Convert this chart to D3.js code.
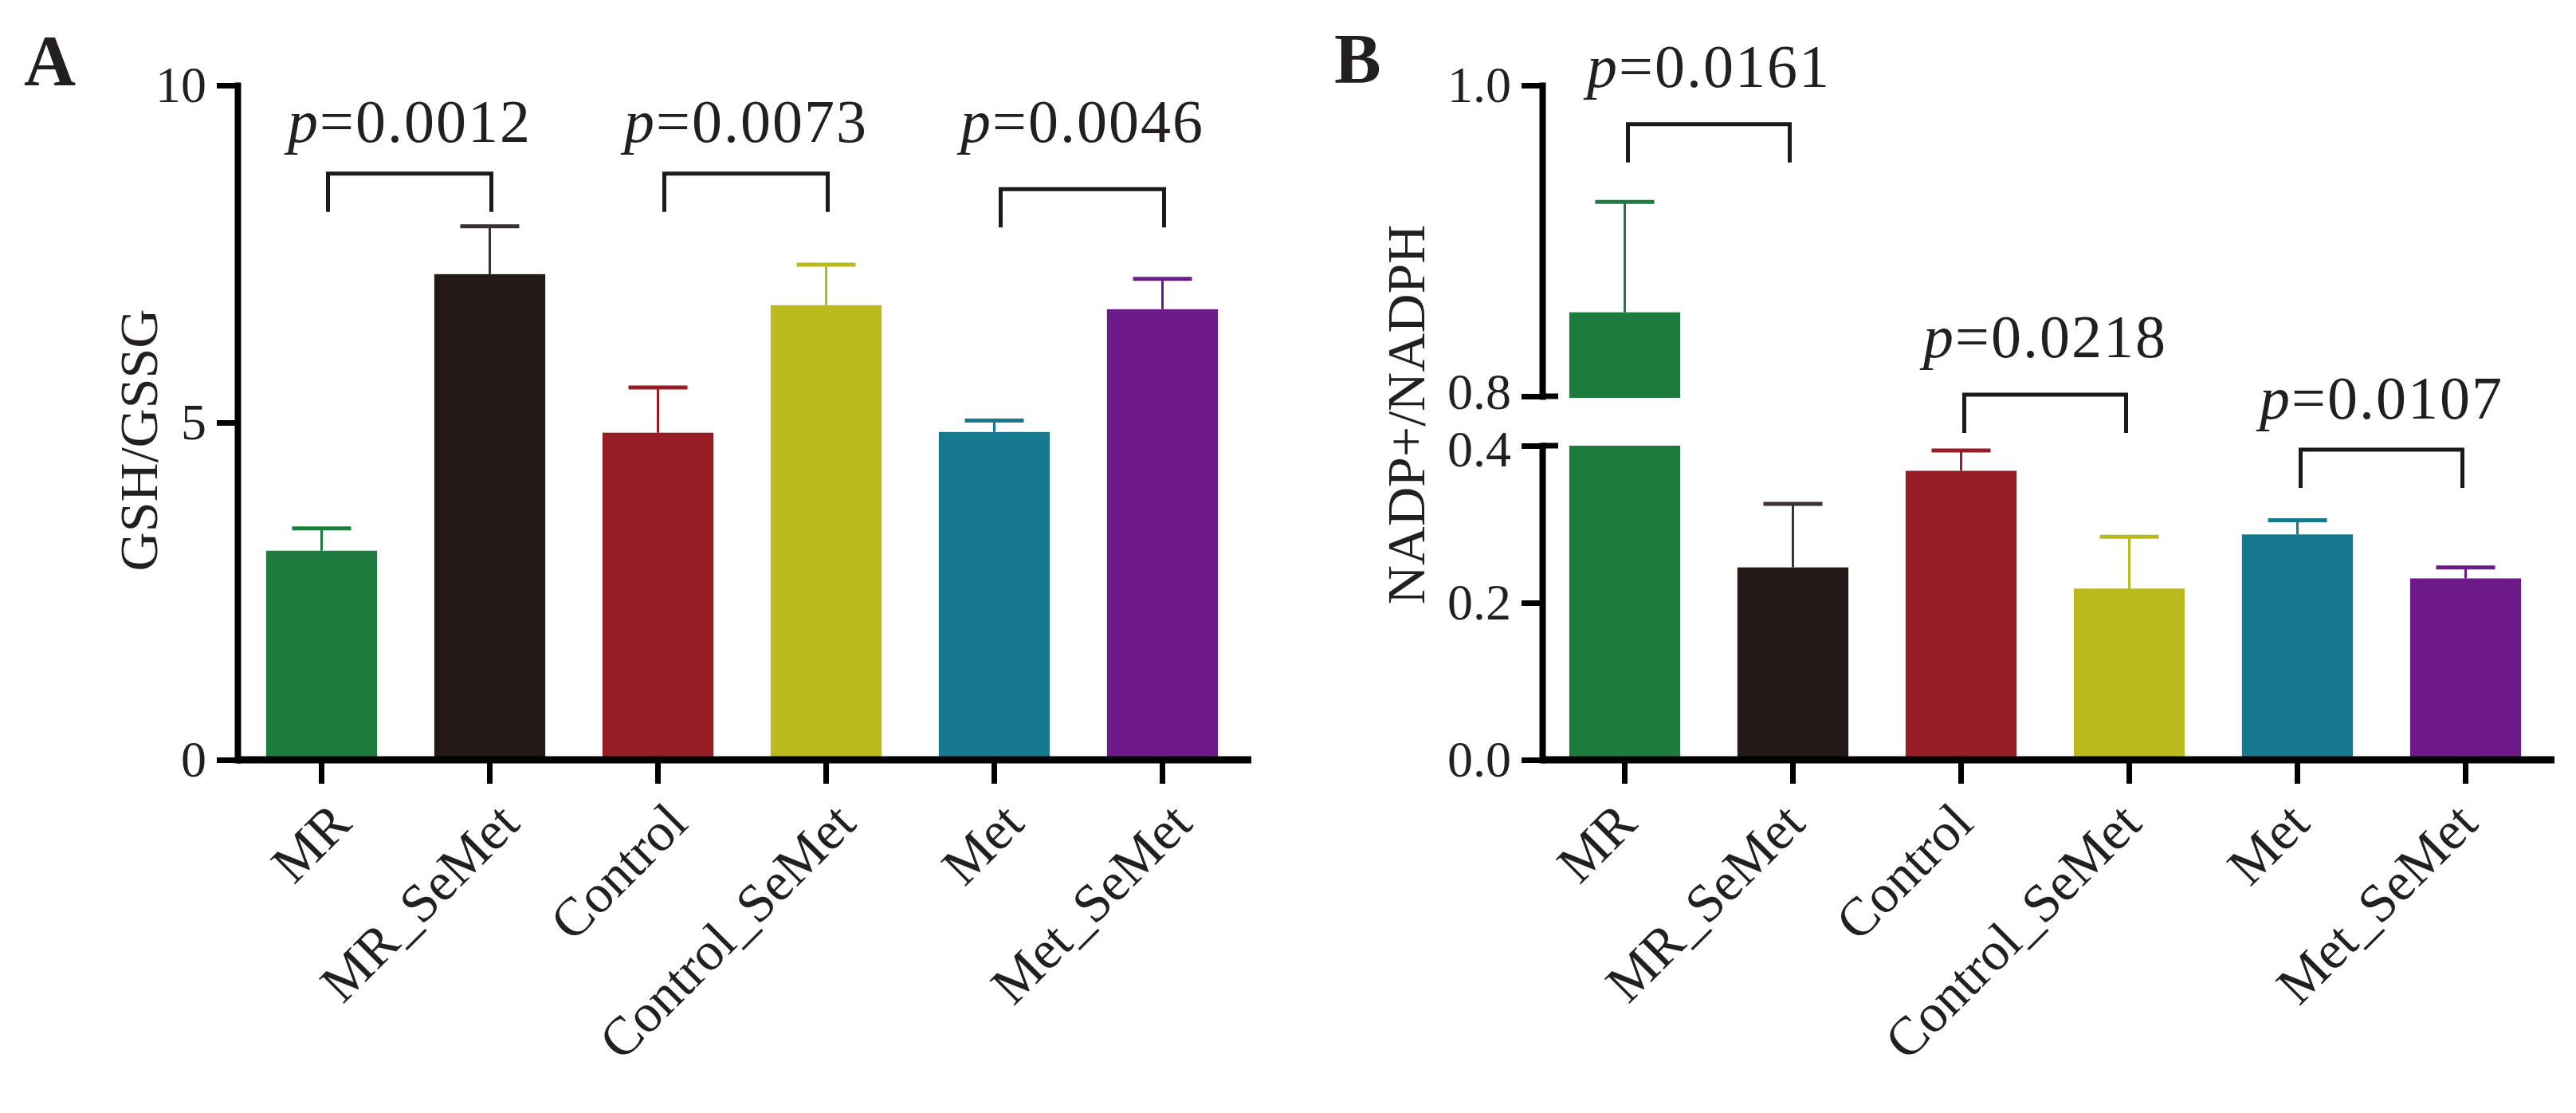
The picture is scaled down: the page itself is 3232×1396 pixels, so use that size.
<!DOCTYPE html>
<html>
<head>
<meta charset="utf-8">
<script src="https://cdn.jsdelivr.net/npm/d3@7"></script>
<style>
  body { margin: 0; background: #fff; }
  text { font-family: "Liberation Serif", "Times New Roman", serif; fill: #231f20; }
</style>
</head>
<body>
<script>
// groups and colours
const categories = ["MR", "MR_SeMet", "Control", "Control_SeMet", "Met", "Met_SeMet"];
const barColors = ["#1d7c3d", "#231a18", "#961d24", "#bbba1c", "#17798f", "#6b1a87"];
const errColors = ["#1d7c3d", "#3a3232", "#961d24", "#bbba1c", "#17798f", "#6b1a87"];

// panel A: GSH/GSSG
const gshMean = [3.10, 7.20, 4.85, 6.74, 4.86, 6.68];
const gshSd = [0.33, 0.71, 0.67, 0.60, 0.17, 0.45];
const gshTicks = [0, 5, 10];
const gshPairs = [[0, 1], [2, 3], [4, 5]];
const gshP = ["0.0012", "0.0073", "0.0046"];
const gshBracket = [8.69, 8.69, 8.46];
const gshLabelAt = [9.16, 9.16, 9.16];

// panel B: NADP+/NADPH (broken axis)
const nadpMean = [0.854, 0.245, 0.368, 0.218, 0.287, 0.231];
const nadpSd = [0.071, 0.081, 0.026, 0.066, 0.018, 0.014];
const nadpTicksLow = [0.0, 0.2, 0.4];
const nadpTicksHigh = [0.8, 1.0];
const nadpPairs = [[0, 1], [2, 3], [4, 5]];
const nadpP = ["0.0161", "0.0218", "0.0107"];
const nadpBracket = [0.975, 0.465, 0.395];
const nadpLabelAt = [0.999, 0.513, 0.435];

const W = 3232, H = 1396;
const svg = d3.select("body").append("svg").attr("width", W).attr("height", H);

const baseY = 953;
const step = 211;

function styleAxis(g) {
    g.selectAll("path.domain").attr("stroke", "#000").attr("stroke-width", 8).attr("stroke-linecap", "square");
    g.selectAll(".tick line").attr("stroke", "#000").attr("stroke-width", 7);
    g.selectAll(".tick text").attr("font-size", 64).attr("font-family", "Liberation Serif").attr("fill", "#231f20");
}

function xAxisAndLabels(x, axisX, labelDx) {
    // baseline
    svg.append("line")
        .attr("x1", axisX).attr("x2", x.range()[1] + 6)
        .attr("y1", baseY).attr("y2", baseY)
        .attr("stroke", "#000").attr("stroke-width", 9);

    const gx = svg.append("g").attr("transform", `translate(0, ${baseY})`)
        .call(d3.axisBottom(x).tickSize(30).tickSizeOuter(0).tickFormat(""));
    gx.select("path.domain").remove();
    styleAxis(gx);

    svg.append("g").selectAll("text").data(categories).enter().append("text")
        .attr("transform", d => `translate(${x(d) + x.bandwidth() / 2 + labelDx}, 1036) rotate(-45)`)
        .attr("text-anchor", "end")
        .attr("font-size", 68)
        .text(d => d);
}

function pLabel(cx, y, p) {
    const t = svg.append("text")
        .attr("x", cx).attr("y", y)
        .attr("text-anchor", "middle")
        .attr("font-size", 76)
        .attr("letter-spacing", 2);
    t.append("tspan").attr("font-style", "italic").text("p");
    t.append("tspan").text("=" + p);
}

function bracket(x1, x2, y) {
    svg.append("path")
        .attr("d", `M${x1},${y + 48}V${y}H${x2}V${y + 48}`)
        .attr("fill", "none")
        .attr("stroke", "#1a1a1a")
        .attr("stroke-width", 5);
}

function errorBars(x, yOf, means, sds) {
    categories.forEach((c, i) => {
        const cx = x(c) + x.bandwidth() / 2;
        const y0 = yOf(means[i]);
        const y1 = yOf(means[i] + sds[i]);
        svg.append("line").attr("x1", cx).attr("x2", cx).attr("y1", y0).attr("y2", y1)
            .attr("stroke", errColors[i]).attr("stroke-width", 3);
        svg.append("line").attr("x1", cx - 37).attr("x2", cx + 37).attr("y1", y1).attr("y2", y1)
            .attr("stroke", errColors[i]).attr("stroke-width", 5);
    });
}

// ---------------- panel A ----------------
const axA = 298;
const xA = d3.scaleBand().domain(categories).range([axA, axA + step * 6]).paddingInner(0.34).paddingOuter(0.17);
const yA = d3.scaleLinear().domain([0, 10]).range([baseY, 107]);

svg.append("g").selectAll("rect").data(categories).enter().append("rect")
    .attr("x", d => xA(d))
    .attr("y", (d, i) => yA(gshMean[i]))
    .attr("width", xA.bandwidth())
    .attr("height", (d, i) => yA(0) - yA(gshMean[i]))
    .attr("fill", (d, i) => barColors[i]);

errorBars(xA, yA, gshMean, gshSd);

const gyA = svg.append("g").attr("transform", `translate(${axA}, 0)`)
    .call(d3.axisLeft(yA).tickValues(gshTicks).tickSize(26).tickSizeOuter(0).tickPadding(13));
styleAxis(gyA);

xAxisAndLabels(xA, axA, 40);

gshPairs.forEach((pr, i) => {
    const x1 = xA(categories[pr[0]]) + xA.bandwidth() / 2 + 8;
    const x2 = xA(categories[pr[1]]) + xA.bandwidth() / 2 + 2;
    bracket(x1, x2, yA(gshBracket[i]));
    pLabel((x1 + x2) / 2, yA(gshLabelAt[i]), gshP[i]);
});

svg.append("text")
    .attr("transform", "translate(197, 552) rotate(-90)")
    .attr("text-anchor", "middle")
    .attr("font-size", 68)
    .text("GSH/GSSG");

svg.append("text").attr("x", 30).attr("y", 107)
    .attr("font-size", 90).attr("font-weight", "bold").text("A");

// ---------------- panel B ----------------
const axB = 1935;
const xB = d3.scaleBand().domain(categories).range([axB - 2, axB - 2 + step * 6]).paddingInner(0.34).paddingOuter(0.17);
const yLow = d3.scaleLinear().domain([0, 0.4]).range([baseY, 559]);
const yHigh = d3.scaleLinear().domain([0.8, 1.0]).range([497, 107]);
const yB = v => (v >= 0.8 ? yHigh(v) : yLow(v));

const barsB = svg.append("g");
categories.forEach((c, i) => {
    const v = nadpMean[i];
    if (v > 0.4) {
        barsB.append("rect")
            .attr("x", xB(c)).attr("width", xB.bandwidth())
            .attr("y", yLow(0.4)).attr("height", yLow(0) - yLow(0.4))
            .attr("fill", barColors[i]);
        barsB.append("rect")
            .attr("x", xB(c)).attr("width", xB.bandwidth())
            .attr("y", yHigh(v)).attr("height", yHigh(0.8) - yHigh(v) + 2)
            .attr("fill", barColors[i]);
    } else {
        barsB.append("rect")
            .attr("x", xB(c)).attr("width", xB.bandwidth())
            .attr("y", yLow(v)).attr("height", yLow(0) - yLow(v))
            .attr("fill", barColors[i]);
    }
});

errorBars(xB, yB, nadpMean, nadpSd);

const gyLow = svg.append("g").attr("transform", `translate(${axB}, 0)`)
    .call(d3.axisLeft(yLow).tickValues(nadpTicksLow).tickFormat(d3.format(".1f")).tickSize(26).tickSizeOuter(0).tickPadding(13));
styleAxis(gyLow);
const gyHigh = svg.append("g").attr("transform", `translate(${axB}, 0)`)
    .call(d3.axisLeft(yHigh).tickValues(nadpTicksHigh).tickFormat(d3.format(".1f")).tickSize(26).tickSizeOuter(0).tickPadding(13));
styleAxis(gyHigh);

// the labels either side of the break sit very close; nudge them apart a little
gyHigh.selectAll(".tick text").filter(d => d === 0.8).attr("y", -5);
gyLow.selectAll(".tick text").filter(d => d === 0.4).attr("y", 5);

// break caps at 0.4 and 0.8
[yLow(0.4), yHigh(0.8)].forEach(y => {
    svg.append("line").attr("x1", axB).attr("x2", axB + 20).attr("y1", y).attr("y2", y)
        .attr("stroke", "#000").attr("stroke-width", 7);
});

xAxisAndLabels(xB, axB, 18);

nadpPairs.forEach((pr, i) => {
    const x1 = xB(categories[pr[0]]) + xB.bandwidth() / 2 + 4;
    const x2 = xB(categories[pr[1]]) + xB.bandwidth() / 2 - 4;
    bracket(x1, x2, yB(nadpBracket[i]));
    pLabel((x1 + x2) / 2, yB(nadpLabelAt[i]), nadpP[i]);
});

svg.append("text")
    .attr("transform", "translate(1787, 520) rotate(-90)")
    .attr("text-anchor", "middle")
    .attr("font-size", 68)
    .text("NADP+/NADPH");

svg.append("text").attr("x", 1674).attr("y", 103)
    .attr("font-size", 88).attr("font-weight", "bold").text("B");
</script>
</body>
</html>
